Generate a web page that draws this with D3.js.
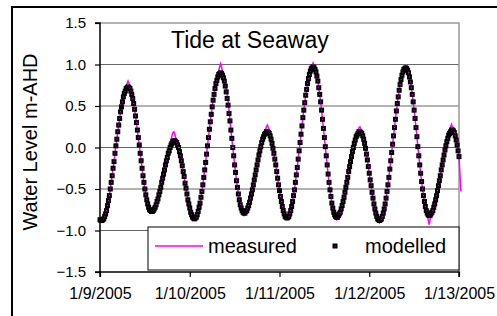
<!DOCTYPE html>
<html>
<head>
<meta charset="utf-8">
<script src="https://cdn.jsdelivr.net/npm/d3@7"></script>
<style>
  body { margin: 0; background: #fff; }
  svg text { font-family: 'Liberation Sans', Arial, sans-serif; fill: #000; }
</style>
</head>
<body>
<div id="chart"></div>
<script>
// chart data
const title = 'Tide at Seaway';
const yLabel = 'Water Level m-AHD';
const yTicks = [-1.5, -1.0, -0.5, 0.0, 0.5, 1.0, 1.5];
const dateTicks = ['2005-01-09', '2005-01-10', '2005-01-11', '2005-01-12', '2005-01-13'];
const seriesNames = ['measured', 'modelled'];
const startTime = new Date(2005, 0, 9);
const stepMinutes = 15;

const measured = [
  -0.87, -0.88, -0.88,
  -0.87, -0.86, -0.83, -0.80, -0.76, -0.70, -0.64, -0.58, -0.50, -0.42, -0.34, -0.25, -0.17, -0.07, 0.02, 0.10, 0.19, 0.27, 0.35, 0.43, 0.49, 0.55, 0.61, 0.66, 0.70, 0.74, 0.77, 0.80,
  0.77, 0.74, 0.70, 0.65, 0.59, 0.53, 0.46, 0.38, 0.30, 0.21, 0.12, 0.03, -0.07, -0.16, -0.25, -0.34, -0.42, -0.50, -0.57, -0.63, -0.68, -0.72, -0.75, -0.76, -0.77,
  -0.77, -0.76, -0.74, -0.72, -0.69, -0.65, -0.62, -0.57, -0.53, -0.48, -0.42, -0.37, -0.32, -0.27, -0.21, -0.16, -0.12, -0.05, 0.00, 0.05, 0.10, 0.14, 0.18, 0.19, 0.16,
  0.12, 0.08, 0.04, 0.01, -0.05, -0.10, -0.16, -0.22, -0.29, -0.35, -0.43, -0.49, -0.56, -0.63, -0.68, -0.73, -0.78, -0.81, -0.84, -0.85, -0.86,
  -0.85, -0.84, -0.81, -0.77, -0.72, -0.67, -0.60, -0.53, -0.45, -0.36, -0.27, -0.18, -0.08, 0.02, 0.12, 0.22, 0.31, 0.40, 0.49, 0.57, 0.64, 0.71, 0.77, 0.82, 0.88, 0.93, 0.97, 1.01,
  0.97, 0.92, 0.87, 0.81, 0.75, 0.70, 0.64, 0.57, 0.45, 0.34, 0.21, 0.11, 0.00, -0.10, -0.21, -0.30, -0.40, -0.48, -0.56, -0.63, -0.69, -0.73, -0.77, -0.80, -0.82,
  -0.81, -0.78, -0.76, -0.73, -0.70, -0.66, -0.61, -0.56, -0.51, -0.45, -0.39, -0.33, -0.27, -0.21, -0.15, -0.09, -0.04, 0.01, 0.06, 0.10, 0.14, 0.18, 0.21, 0.25, 0.27,
  0.24, 0.21, 0.16, 0.11, 0.05, -0.01, -0.07, -0.14, -0.21, -0.29, -0.37, -0.45, -0.52, -0.59, -0.65, -0.71, -0.76, -0.80, -0.83, -0.84, -0.85,
  -0.84, -0.83, -0.80, -0.76, -0.71, -0.65, -0.58, -0.51, -0.42, -0.33, -0.24, -0.14, -0.04, 0.06, 0.16, 0.26, 0.36, 0.45, 0.54, 0.63, 0.70, 0.77, 0.83, 0.89, 0.93, 0.97, 0.99, 1.02,
  0.99, 0.96, 0.92, 0.87, 0.80, 0.72, 0.64, 0.55, 0.45, 0.34, 0.23, 0.12, 0.01, -0.10, -0.21, -0.32, -0.42, -0.51, -0.59, -0.67, -0.73, -0.78, -0.82, -0.85, -0.87,
  -0.86, -0.83, -0.80, -0.78, -0.74, -0.70, -0.65, -0.60, -0.54, -0.48, -0.42, -0.36, -0.29, -0.23, -0.17, -0.11, -0.05, 0.00, 0.05, 0.09, 0.14, 0.16, 0.20, 0.24, 0.25,
  0.22, 0.20, 0.15, 0.11, 0.05, -0.01, -0.08, -0.15, -0.23, -0.31, -0.39, -0.46, -0.54, -0.61, -0.68, -0.74, -0.79, -0.83, -0.87, -0.89, -0.91,
  -0.89, -0.87, -0.83, -0.79, -0.74, -0.68, -0.61, -0.53, -0.45, -0.36, -0.26, -0.16, -0.06, 0.04, 0.14, 0.24, 0.34, 0.44, 0.53, 0.61, 0.69, 0.76, 0.82, 0.87, 0.91, 0.95, 0.97, 0.99,
  0.97, 0.94, 0.90, 0.85, 0.79, 0.72, 0.64, 0.55, 0.45, 0.35, 0.24, 0.13, 0.01, -0.10, -0.21, -0.31, -0.41, -0.50, -0.58, -0.65, -0.71, -0.77, -0.82, -0.87, -0.93,
  -0.87, -0.82, -0.79, -0.76, -0.72, -0.68, -0.63, -0.58, -0.52, -0.46, -0.40, -0.34, -0.27, -0.21, -0.15, -0.09, -0.03, 0.02, 0.07, 0.12, 0.17, 0.21, 0.25, 0.28, 0.25,
  0.22, 0.18, 0.14, 0.09, 0.03, -0.04, -0.11, -0.32, -0.53,
];

const modelled = [
  -0.87, -0.88, -0.88,
  -0.87, -0.86, -0.83, -0.80, -0.76, -0.70, -0.64, -0.58, -0.50, -0.42, -0.34, -0.25, -0.17, -0.07, 0.02, 0.10, 0.19, 0.27, 0.35, 0.43, 0.49, 0.55, 0.61, 0.65, 0.68, 0.71, 0.72, 0.73,
  0.72, 0.71, 0.68, 0.64, 0.59, 0.53, 0.46, 0.38, 0.30, 0.21, 0.12, 0.03, -0.07, -0.16, -0.25, -0.34, -0.42, -0.50, -0.57, -0.63, -0.68, -0.72, -0.75, -0.76, -0.77,
  -0.77, -0.76, -0.74, -0.72, -0.69, -0.65, -0.62, -0.57, -0.53, -0.48, -0.42, -0.37, -0.32, -0.27, -0.21, -0.16, -0.12, -0.07, -0.04, 0.00, 0.03, 0.05, 0.07, 0.08, 0.08,
  0.07, 0.06, 0.03, 0.00, -0.05, -0.10, -0.16, -0.22, -0.29, -0.35, -0.43, -0.49, -0.56, -0.63, -0.68, -0.73, -0.78, -0.81, -0.84, -0.85, -0.86,
  -0.85, -0.84, -0.81, -0.77, -0.72, -0.67, -0.60, -0.53, -0.45, -0.36, -0.27, -0.18, -0.08, 0.02, 0.12, 0.22, 0.31, 0.40, 0.49, 0.57, 0.64, 0.71, 0.77, 0.81, 0.85, 0.88, 0.89, 0.90,
  0.89, 0.87, 0.84, 0.80, 0.74, 0.67, 0.59, 0.51, 0.41, 0.32, 0.21, 0.11, 0.00, -0.10, -0.21, -0.30, -0.40, -0.48, -0.56, -0.63, -0.69, -0.73, -0.76, -0.78, -0.79,
  -0.79, -0.77, -0.76, -0.73, -0.70, -0.66, -0.61, -0.56, -0.51, -0.45, -0.39, -0.33, -0.27, -0.21, -0.15, -0.09, -0.04, 0.01, 0.06, 0.10, 0.13, 0.16, 0.17, 0.19, 0.19,
  0.18, 0.17, 0.14, 0.10, 0.05, -0.01, -0.07, -0.14, -0.21, -0.29, -0.37, -0.45, -0.52, -0.59, -0.65, -0.71, -0.76, -0.80, -0.83, -0.84, -0.85,
  -0.84, -0.83, -0.80, -0.76, -0.71, -0.65, -0.58, -0.51, -0.42, -0.33, -0.24, -0.14, -0.04, 0.06, 0.16, 0.26, 0.36, 0.45, 0.54, 0.63, 0.70, 0.77, 0.83, 0.88, 0.92, 0.95, 0.96, 0.97,
  0.96, 0.94, 0.91, 0.86, 0.80, 0.72, 0.64, 0.55, 0.45, 0.34, 0.23, 0.12, 0.01, -0.10, -0.21, -0.32, -0.42, -0.51, -0.59, -0.67, -0.73, -0.78, -0.81, -0.83, -0.84,
  -0.84, -0.82, -0.80, -0.78, -0.74, -0.70, -0.65, -0.60, -0.54, -0.48, -0.42, -0.36, -0.29, -0.23, -0.17, -0.11, -0.05, 0.00, 0.05, 0.09, 0.13, 0.15, 0.17, 0.19, 0.19,
  0.18, 0.17, 0.14, 0.10, 0.05, -0.01, -0.08, -0.15, -0.23, -0.31, -0.39, -0.46, -0.54, -0.61, -0.68, -0.74, -0.79, -0.83, -0.86, -0.87, -0.88,
  -0.87, -0.86, -0.83, -0.79, -0.74, -0.68, -0.61, -0.53, -0.45, -0.36, -0.26, -0.16, -0.06, 0.04, 0.14, 0.24, 0.34, 0.44, 0.53, 0.61, 0.69, 0.76, 0.82, 0.87, 0.91, 0.94, 0.95, 0.96,
  0.95, 0.93, 0.90, 0.85, 0.79, 0.72, 0.64, 0.55, 0.45, 0.35, 0.24, 0.13, 0.01, -0.10, -0.21, -0.31, -0.41, -0.50, -0.58, -0.65, -0.71, -0.76, -0.79, -0.81, -0.82,
  -0.82, -0.80, -0.78, -0.76, -0.72, -0.68, -0.63, -0.58, -0.52, -0.46, -0.40, -0.34, -0.27, -0.21, -0.15, -0.09, -0.03, 0.02, 0.07, 0.11, 0.15, 0.17, 0.19, 0.21, 0.21,
  0.20, 0.18, 0.14, 0.09, 0.03, -0.04, -0.11,
];

const width = 497;
const height = 316;
const margin = { top: 23, right: 38, bottom: 44, left: 100 };
const magenta = '#ff00ff';

const svg = d3.select('#chart')
  .append('svg')
  .attr('width', width)
  .attr('height', height);

// outer chart border (runs off the right and bottom edges like the crop)
svg.append('rect')
  .attr('x', 12)
  .attr('y', 7)
  .attr('width', width + 20)
  .attr('height', height + 20)
  .attr('fill', 'none')
  .attr('stroke', '#000')
  .attr('stroke-width', 2);

const parseDay = d3.timeParse('%Y-%m-%d');

const x = d3.scaleTime()
  .domain([parseDay(dateTicks[0]), parseDay(dateTicks[dateTicks.length - 1])])
  .range([margin.left, width - margin.right]);

const y = d3.scaleLinear()
  .domain([yTicks[0], yTicks[yTicks.length - 1]])
  .range([height - margin.bottom, margin.top]);

const timeAt = (i) => d3.timeMinute.offset(startTime, i * stepMinutes);

// gridlines
svg.append('g')
  .selectAll('line')
  .data(yTicks.slice(1, -1))
  .enter()
  .append('line')
  .attr('x1', margin.left)
  .attr('x2', width - margin.right)
  .attr('y1', (d) => y(d))
  .attr('y2', (d) => y(d))
  .attr('stroke', '#666')
  .attr('stroke-width', 1);

// plot area frame, top and right
svg.append('path')
  .attr('d', `M${margin.left},${y(1.5)}H${width - margin.right}V${y(-1.5)}`)
  .attr('fill', 'none')
  .attr('stroke', '#999')
  .attr('stroke-width', 1.5);

// measured line
const line = d3.line()
  .x((d, i) => x(timeAt(i)))
  .y((d) => y(d));

svg.append('path')
  .datum(measured)
  .attr('d', line)
  .attr('fill', 'none')
  .attr('stroke', magenta)
  .attr('stroke-width', 1.5);

// modelled markers: black square with a magenta centre
const drawMarker = (sel) => sel
  .attr('width', 3)
  .attr('height', 3)
  .attr('fill', magenta)
  .attr('stroke', '#000')
  .attr('stroke-width', 2);

svg.append('g')
  .selectAll('rect')
  .data(modelled)
  .enter()
  .append('rect')
  .attr('x', (d, i) => x(timeAt(i)) - 1.5)
  .attr('y', (d) => y(d) - 1.5)
  .call(drawMarker);

// axes
const yAxis = svg.append('g')
  .attr('transform', `translate(${margin.left},0)`)
  .call(d3.axisLeft(y).tickValues(yTicks).tickSize(5).tickPadding(9).tickFormat(d3.format('.1f')));

const xAxis = svg.append('g')
  .attr('transform', `translate(0,${height - margin.bottom})`)
  .call(d3.axisBottom(x)
    .tickValues(dateTicks.map(parseDay))
    .tickSize(5)
    .tickPadding(8)
    .tickFormat(d3.timeFormat('%-m/%-d/%Y')));

[yAxis, xAxis].forEach((a) => {
  a.select('.domain').attr('stroke', '#000').attr('stroke-width', 1.5);
  a.selectAll('.tick line').attr('stroke', '#000').attr('stroke-width', 1.2);
  a.selectAll('.tick text').style('font-size', '15px').attr('fill', '#000');
});
yAxis.select('.domain').attr('d', `M-5,${y(1.5)}H0V${y(-1.5)}H-5`);
xAxis.select('.domain').attr('d', `M${margin.left},5V0H${width - margin.right}V5`);
xAxis.selectAll('.tick text').attr('dy', '0.9em').style('font-size', '16px');

// title
svg.append('text')
  .attr('x', 171)
  .attr('y', 48)
  .style('font-size', '23px')
  .text(title);

// y axis title
svg.append('text')
  .attr('transform', 'translate(37,142) rotate(-90)')
  .attr('text-anchor', 'middle')
  .style('font-size', '20px')
  .text(yLabel);

// legend
const legend = svg.append('g');
legend.append('rect')
  .attr('x', 148)
  .attr('y', 227)
  .attr('width', width - margin.right - 148)
  .attr('height', 43)
  .attr('fill', '#fff')
  .attr('stroke', '#000')
  .attr('stroke-width', 1);

legend.append('line')
  .attr('x1', 155)
  .attr('x2', 203)
  .attr('y1', 246)
  .attr('y2', 246)
  .attr('stroke', magenta)
  .attr('stroke-width', 1.5);

legend.append('text')
  .attr('x', 208)
  .attr('y', 253)
  .style('font-size', '20px')
  .text(seriesNames[0]);

legend.append('rect')
  .attr('x', 333.5)
  .attr('y', 244.5)
  .call(drawMarker);

legend.append('text')
  .attr('x', 365)
  .attr('y', 253)
  .style('font-size', '20px')
  .text(seriesNames[1]);
</script>
</body>
</html>
